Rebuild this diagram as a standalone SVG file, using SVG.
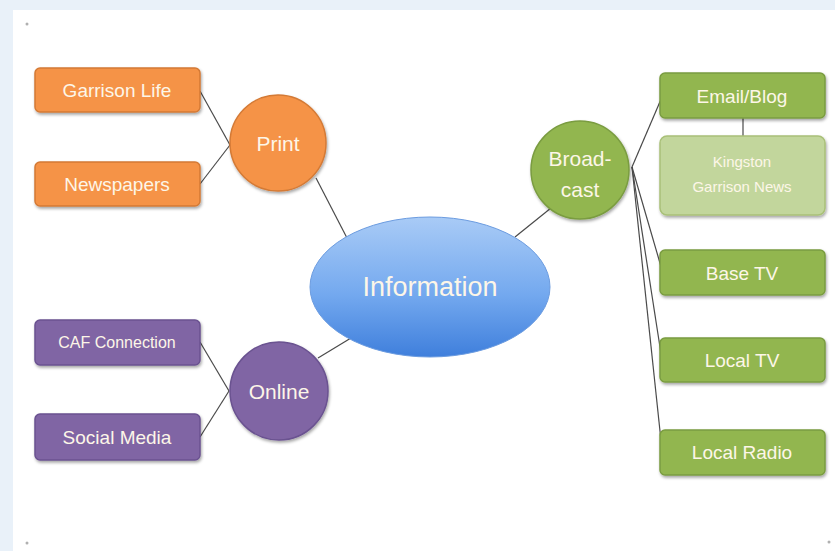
<svg xmlns="http://www.w3.org/2000/svg" width="835" height="551" viewBox="0 0 835 551">
<defs>
<linearGradient id="blue" x1="0" y1="0" x2="0" y2="1">
<stop offset="0" stop-color="#a9cbf6"/>
<stop offset="0.55" stop-color="#74a9ef"/>
<stop offset="1" stop-color="#3f7fdc"/>
</linearGradient>
<filter id="sh" x="-20%" y="-20%" width="140%" height="150%">
<feDropShadow dx="1" dy="2" stdDeviation="1.5" flood-color="#000" flood-opacity="0.35"/>
</filter>
</defs>
<style>
.t{font-family:"Liberation Sans","DejaVu Sans",sans-serif;fill:#fdf6e8;text-anchor:middle;dominant-baseline:central}
.or{fill:#f59346;stroke:#d47a36;stroke-width:1.5}
.pu{fill:#8065a4;stroke:#6a5290;stroke-width:1.5}
.gr{fill:#92b650;stroke:#7a9c40;stroke-width:1.5}
.lg{fill:#c2d69c;stroke:#a9c078;stroke-width:1.5}
.c line{stroke:#4a4a4a;stroke-width:1.2}
</style>
<rect x="0" y="0" width="835" height="551" fill="#e9f1f9"/>
<rect x="13" y="10" width="822" height="541" fill="#ffffff"/>
<circle cx="27" cy="24" r="1.5" fill="#b0b0b0"/>
<circle cx="27" cy="543" r="1.5" fill="#b0b0b0"/>
<circle cx="829" cy="542" r="1.5" fill="#b0b0b0"/>
<g class="c" id="connectors">
<line x1="200" y1="91" x2="230" y2="145"/>
<line x1="200" y1="184" x2="230" y2="145"/>
<line x1="316" y1="178" x2="347" y2="238"/>
<line x1="200" y1="342" x2="229" y2="391"/>
<line x1="200" y1="437" x2="229" y2="391"/>
<line x1="318" y1="358" x2="351" y2="338"/>
<line x1="515" y1="237" x2="551" y2="208"/>
<line x1="632" y1="167" x2="662" y2="97"/>
<line x1="632" y1="167" x2="662" y2="270"/>
<line x1="632" y1="167" x2="662" y2="360"/>
<line x1="632" y1="167" x2="662" y2="450"/>
<line x1="743" y1="118" x2="743" y2="136"/>
</g>
<g id="information">
<ellipse cx="430" cy="287" rx="120" ry="70" fill="url(#blue)" stroke="#6c9ce0" stroke-width="1"/>
<text class="t" x="430" y="287" font-size="27" fill="#fff">Information</text>
</g>
<g id="print">
<circle cx="278" cy="143" r="48" class="or" filter="url(#sh)"/>
<text class="t" x="278" y="143" font-size="21">Print</text>
</g>
<g id="garrison-life">
<rect x="35" y="68" width="165" height="44" rx="5" class="or" filter="url(#sh)"/>
<text class="t" x="117" y="90" font-size="19">Garrison Life</text>
</g>
<g id="newspapers">
<rect x="35" y="162" width="165" height="44" rx="5" class="or" filter="url(#sh)"/>
<text class="t" x="117" y="184" font-size="19">Newspapers</text>
</g>
<g id="online">
<circle cx="279" cy="391" r="49" class="pu" filter="url(#sh)"/>
<text class="t" x="279" y="391" font-size="21">Online</text>
</g>
<g id="caf-connection">
<rect x="35" y="320" width="165" height="45" rx="5" class="pu" filter="url(#sh)"/>
<text class="t" x="117" y="342" font-size="16">CAF Connection</text>
</g>
<g id="social-media">
<rect x="35" y="414" width="165" height="46" rx="5" class="pu" filter="url(#sh)"/>
<text class="t" x="117" y="437" font-size="19">Social Media</text>
</g>
<g id="broadcast">
<circle cx="580" cy="170" r="49" class="gr" filter="url(#sh)"/>
<text class="t" x="580" y="158" font-size="21">Broad-</text>
<text class="t" x="580" y="189" font-size="21">cast</text>
</g>
<g id="email-blog">
<rect x="660" y="73" width="165" height="45" rx="5" class="gr" filter="url(#sh)"/>
<text class="t" x="742" y="96" font-size="19">Email/Blog</text>
</g>
<g id="kingston-garrison-news">
<rect x="660" y="136" width="165" height="79" rx="7" class="lg" filter="url(#sh)"/>
<text class="t" x="742" y="161" font-size="15" fill="#eef4e0">Kingston</text>
<text class="t" x="742" y="186" font-size="15" fill="#eef4e0">Garrison News</text>
</g>
<g id="base-tv">
<rect x="660" y="250" width="165" height="45" rx="5" class="gr" filter="url(#sh)"/>
<text class="t" x="742" y="273" font-size="19">Base TV</text>
</g>
<g id="local-tv">
<rect x="660" y="338" width="165" height="44" rx="5" class="gr" filter="url(#sh)"/>
<text class="t" x="742" y="360" font-size="19">Local TV</text>
</g>
<g id="local-radio">
<rect x="660" y="430" width="165" height="45" rx="5" class="gr" filter="url(#sh)"/>
<text class="t" x="742" y="452" font-size="19">Local Radio</text>
</g>
</svg>
